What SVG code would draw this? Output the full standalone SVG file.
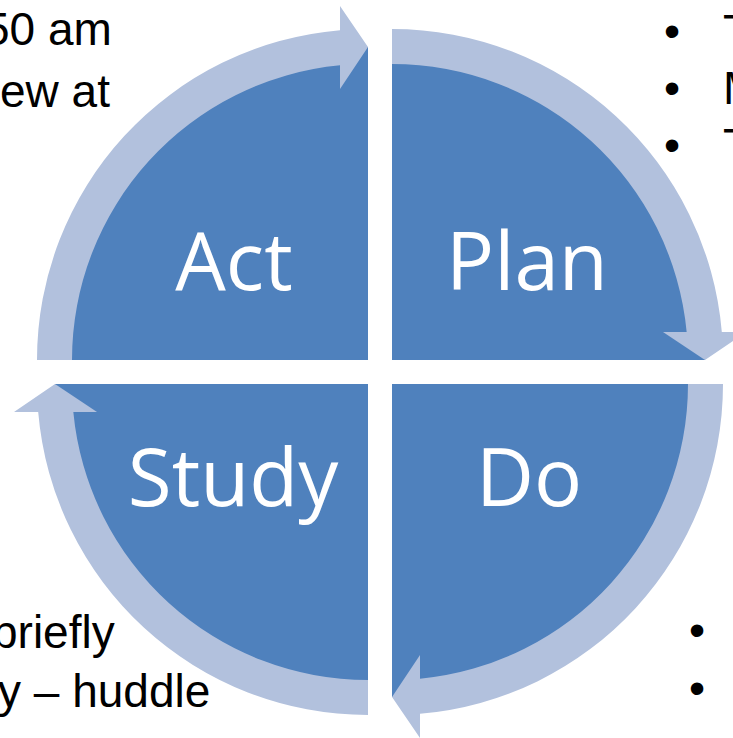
<svg xmlns="http://www.w3.org/2000/svg" width="733" height="738" viewBox="0 0 733 738">
  <style>
    .quad { fill: #4F81BD; }
    .ring { fill: #B2C1DD; }
    .label { font-family: "Open Sans", "Noto Sans", sans-serif; font-size: 80px; fill: #FFFFFF; text-anchor: middle; }
    .note { font-family: "Liberation Sans", Arial, sans-serif; font-size: 46px; fill: #000000; }
  </style>
  <rect width="733" height="738" fill="#FFFFFF"/>

  <!-- side notes (clipped at the page edges) -->
  <g id="notes">
    <text class="note" x="-16" y="45">50 am</text>
    <text class="note" x="0" y="107">ew at</text>
    <text class="note" x="-8" y="648">briefly</text>
    <text class="note" x="-2" y="707">y – huddle</text>
    <text class="note" x="664" y="47">•</text>
    <text class="note" x="723" y="47">T</text>
    <text class="note" x="664" y="104">•</text>
    <text class="note" x="723" y="104">M</text>
    <text class="note" x="664" y="161">•</text>
    <text class="note" x="723" y="161">T</text>
    <text class="note" x="689" y="646">•</text>
    <text class="note" x="689" y="704">•</text>
  </g>

  <!-- quadrants -->
  <g id="act">
    <path class="quad" d="M368,360 L55,360 A313,313 0 0 1 368,47 Z"/>
    <text class="label" x="234" y="290">Act</text>
  </g>
  <g id="plan">
    <path class="quad" d="M392,360 L392,47 A313,313 0 0 1 705,360 Z"/>
    <text class="label" x="527" y="290">Plan</text>
  </g>
  <g id="do">
    <path class="quad" d="M392,384 L705,384 A313,313 0 0 1 392,697 Z"/>
    <text class="label" x="529" y="506">Do</text>
  </g>
  <g id="study">
    <path class="quad" d="M368,384 L368,697 A313,313 0 0 1 55,384 Z"/>
    <text class="label" x="233" y="506">Study</text>
  </g>

  <!-- circular arrows linking the quadrants clockwise -->
  <g id="connectors">
    <path class="ring" d="M37,360 A331,331 0 0 1 340,30.19 L340,6 L368,47 L340,89 L340,65.33 A296,296 0 0 0 72,360 Z"/>
    <path class="ring" d="M392,29 A331,331 0 0 1 721.81,332 L746,332 L705,360 L663,332 L686.67,332 A296,296 0 0 0 392,64 Z"/>
    <path class="ring" d="M723,384 A331,331 0 0 1 420,713.81 L420,738 L392,697 L420,655 L420,678.67 A296,296 0 0 0 688,384 Z"/>
    <path class="ring" d="M368,715 A331,331 0 0 1 38.19,412 L14,412 L55,384 L97,412 L73.33,412 A296,296 0 0 0 368,680 Z"/>
  </g>
</svg>
